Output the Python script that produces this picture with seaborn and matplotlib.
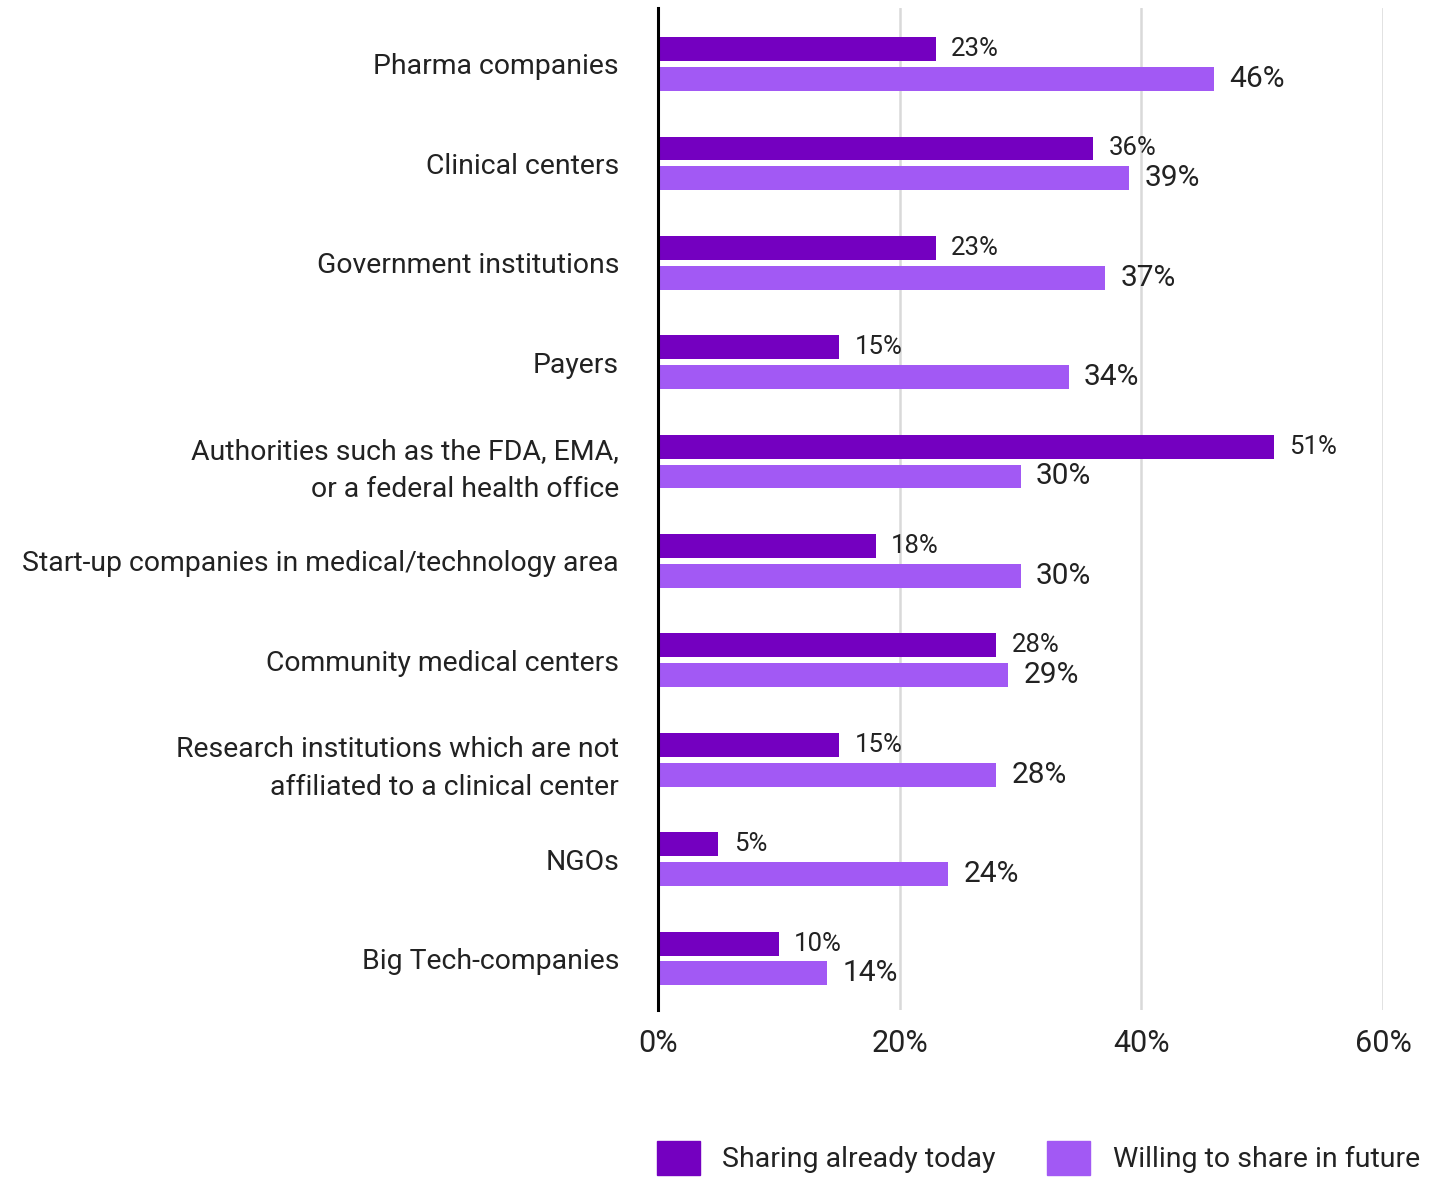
import matplotlib
matplotlib.use("Agg")
import matplotlib.pyplot as plt
import matplotlib.patches as mpatches
import seaborn as sns
import pandas as pd

categories = [
    "Pharma companies",
    "Clinical centers",
    "Government institutions",
    "Payers",
    "Authorities such as the FDA, EMA,\nor a federal health office",
    "Start-up companies in medical/technology area",
    "Community medical centers",
    "Research institutions which are not\naffiliated to a clinical center",
    "NGOs",
    "Big Tech-companies",
]
sharing_today = [23, 36, 23, 15, 51, 18, 28, 15, 5, 10]
willing_future = [46, 39, 37, 34, 30, 30, 29, 28, 24, 14]
series_names = ["Sharing already today", "Willing to share in future"]
colors = ["#7400C0", "#A259F4"]
x_ticks = [0, 20, 40, 60]

TXT = "#222222"
sns.set_style("white")
plt.rcParams["font.family"] = ["Roboto", "DejaVu Sans"]
plt.rcParams["text.color"] = TXT
plt.rcParams["xtick.color"] = TXT
plt.rcParams["ytick.color"] = TXT
plt.rcParams["axes.labelcolor"] = TXT

df = pd.DataFrame({
    "category": categories * 2,
    "value": sharing_today + willing_future,
    "series": [series_names[0]] * len(categories) + [series_names[1]] * len(categories),
})

fig = plt.figure(figsize=(14.51, 11.79), dpi=100)
ax = fig.add_axes([658 / 1451, 1 - 1010 / 1179, (1383 - 658) / 1451, (1010 - 8) / 1179])

sns.barplot(data=df, y="category", x="value", hue="series", orient="h",
            palette=colors, width=0.6, gap=0.2, legend=False, ax=ax,
            linewidth=0, saturation=1)

ax.set_xlim(0, 60)
ax.set_ylim(9.518, -0.563)
ax.set_xticks(x_ticks)
ax.set_xticklabels([f"{t}%" for t in x_ticks], fontsize=22, fontweight="normal",
                   color=TXT)
ax.set_yticks(range(len(categories)))
ax.set_yticklabels(categories, fontsize=20.4, fontweight="normal", color=TXT,
                   linespacing=1.53)
ax.set_xlabel("")
ax.set_ylabel("")
ax.xaxis.grid(True, color="#d9d9d9", linewidth=1.8)
ax.yaxis.grid(False)
ax.set_axisbelow(True)
for s in ["top", "right", "bottom"]:
    ax.spines[s].set_visible(False)
ax.spines["left"].set_color("black")
ax.spines["left"].set_linewidth(2.2)
ax.tick_params(axis="y", length=0, pad=28)
ax.tick_params(axis="x", length=0, pad=14)

conts = ax.containers
ax.bar_label(conts[0], labels=[f"{v}%" for v in sharing_today], padding=11,
             fontsize=18.5, fontweight="normal", color=TXT)
ax.bar_label(conts[1], labels=[f"{v}%" for v in willing_future], padding=11,
             fontsize=21.5, fontweight="normal", color=TXT)

handles = [mpatches.Patch(color=c, label=n) for c, n in zip(colors, series_names)]
leg = fig.legend(handles=handles, loc="center left",
                 bbox_to_anchor=(657 / 1451, 1 - 1158 / 1179), ncol=2,
                 frameon=False, fontsize=20.5, handlelength=1.5, handleheight=1.45,
                 handletextpad=0.8, columnspacing=1.8, borderpad=0, borderaxespad=0)
for t in leg.get_texts():
    t.set_fontweight("normal")
    t.set_color(TXT)

fig.savefig("out.png", dpi=100)
